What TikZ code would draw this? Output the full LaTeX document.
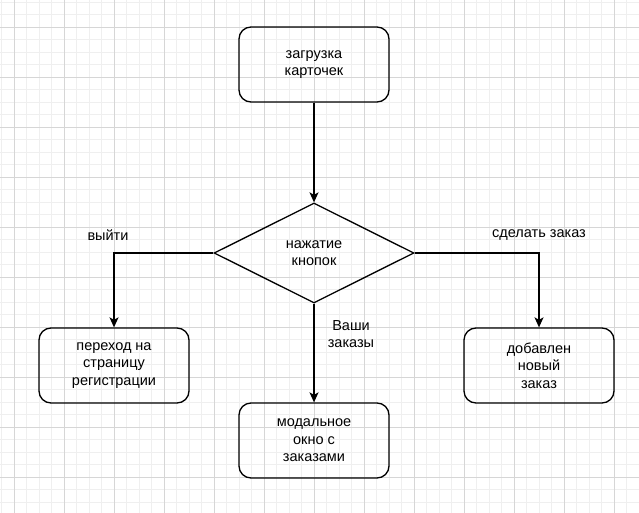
\documentclass[tikz,border=0pt]{standalone}
\usepackage{fontspec}
\setmainfont{Liberation Sans}
\usetikzlibrary{arrows.meta,shapes.geometric}
\definecolor{gridminor}{HTML}{EFEFEF}
\definecolor{gridmajor}{HTML}{D6D6D6}
\definecolor{ink}{HTML}{000000}
\begin{document}
\begin{tikzpicture}[x=1pt,y=-1pt,
  txt/.style={font=\fontsize{14.5}{17.5}\selectfont, text=ink, align=center},
  box/.style={txt, draw=ink, line width=1.3pt, rounded corners=12pt,
    minimum width=150pt, minimum height=75pt, inner sep=0pt},
  decision/.style={txt, draw=ink, line width=1.3pt, diamond, aspect=2,
    minimum width=200pt, minimum height=100pt, inner sep=0pt},
  flow/.style={draw=ink, line width=1.3pt, -{Stealth[length=10pt,width=9pt,inset=2.5pt]}},
  lbl/.style={txt}
]
% canvas and background grid
\useasboundingbox (0,0) rectangle (639,513);
\fill[white] (0,0) rectangle (639,513);
\foreach \gx in {1.8,14.3,...,639}{\draw[gridminor, line width=1pt] (\gx,0) -- (\gx,513);}
\foreach \gy in {2.3,14.8,...,513}{\draw[gridminor, line width=1pt] (0,\gy) -- (639,\gy);}
\foreach \gx in {14.3,64.3,...,639}{\draw[gridmajor, line width=1pt] (\gx,0) -- (\gx,513);}
\foreach \gy in {27.3,77.3,...,513}{\draw[gridmajor, line width=1pt] (0,\gy) -- (639,\gy);}

% nodes
\node[box] (load) at (314,64.5) {загрузка\\карточек};
\node[decision] (press) at (314,253) {нажатие\\кнопок};
\node[box] (reg) at (114,365.5) {переход на\\страницу\\регистрации};
\node[box] (modal) at (314,440.5) {модальное\\окно с\\заказами};
\node[box] (added) at (539,365.5) {добавлен\\новый\\заказ};

% connectors
\draw[flow] (load) -- (press);
\draw[flow] (press.west) -| (reg.north);
\draw[flow] (press.east) -| (added.north);
\draw[flow] (press.south) -- (modal.north);

% connector labels
\node[lbl] (lexit) at (108,235) {выйти};
\node[lbl] (lorder) at (539,235) {сделать заказ};
\node[lbl] (lmine) at (351,334) {Ваши\\заказы};
\end{tikzpicture}
\end{document}
